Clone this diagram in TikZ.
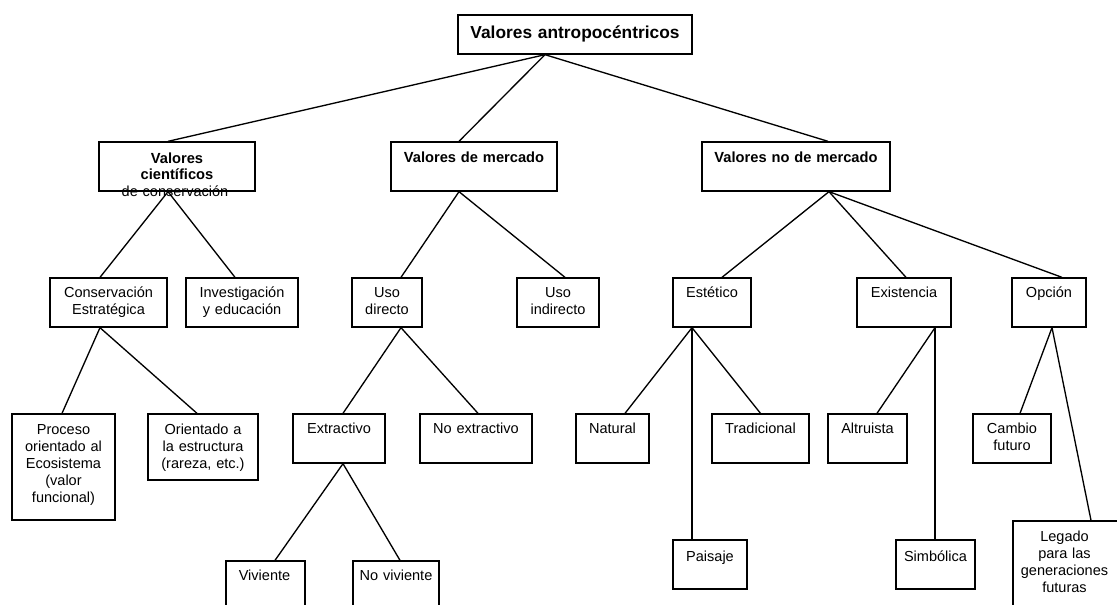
\documentclass[tikz,border=0pt]{standalone}
\usepackage{fontspec}
\setmainfont{Liberation Sans}
\usetikzlibrary{calc,fit}
\begin{document}
\begin{tikzpicture}[x=0.75pt,y=-0.75pt,
  bx/.style={draw, line width=1pt, inner sep=0pt},
  lbl/.style={anchor=base, inner sep=0pt, align=center, text width=200pt,
              font=\fontsize{10.9}{12.75}\selectfont},
  lblb/.style={lbl, font=\fontsize{11}{12.4}\selectfont\bfseries},
  lblt/.style={lbl, text width=240pt, font=\fontsize{13}{15}\selectfont\bfseries},
  ln/.style={line width=1pt}]
\useasboundingbox (0,0) rectangle (1117,604);
\clip (0,0) rectangle (1117,604);

% ---- boxes ----
\node[bx, fit={(458,15)(692,54)}]   (top) {};
\node[bx, fit={(99,142)(255,191)}]  (vc)  {};
\node[bx, fit={(391,142)(557,191)}] (vm)  {};
\node[bx, fit={(702,142)(890,191)}] (vn)  {};

\node[bx, fit={(50,278)(167,327)}]   (ce) {};
\node[bx, fit={(186,278)(298,327)}]  (ie) {};
\node[bx, fit={(352,278)(422,327)}]  (ud) {};
\node[bx, fit={(517,278)(599,327)}]  (ui) {};
\node[bx, fit={(673,278)(751,327)}]  (es) {};
\node[bx, fit={(857,278)(951,327)}]  (ex) {};
\node[bx, fit={(1012,278)(1086,327)}] (op) {};

\node[bx, fit={(12,414)(115,520)}]   (pr) {};
\node[bx, fit={(148,414)(258,480)}]  (oe) {};
\node[bx, fit={(293,414)(385,463)}]  (xt) {};
\node[bx, fit={(420,414)(532,463)}]  (nx) {};
\node[bx, fit={(576,414)(649,463)}]  (na) {};
\node[bx, fit={(712,414)(809,463)}]  (tr) {};
\node[bx, fit={(828,414)(907,463)}]  (al) {};
\node[bx, fit={(973,414)(1051,463)}] (cf) {};

\node[bx, fit={(226,561)(305,620)}]  (vi) {};
\node[bx, fit={(353,561)(439,620)}]  (nv) {};
\node[bx, fit={(673,540)(747,589)}]  (pa) {};
\node[bx, fit={(896,540)(975,589)}]  (si) {};
\node[bx, fit={(1013,521)(1123,620)}] (lg) {};

% ---- labels ----
\node[lblt] (top-t) at ($(top.north)+(0,24)$) {Valores antropocéntricos};
\node[lblb] (vc-t) at ($(vc.north)+(0,22)$) {Valores\\científicos};
\node[lbl]  (vc-s) at ($(vc.north)+(-2,55)$) {de conservación};
\node[lblb] (vm-t) at ($(vm.north)+(0,21)$) {Valores de mercado};
\node[lblb] (vn-t) at ($(vn.north)+(0,21)$) {Valores no de mercado};

\node[lbl] (ce-t) at ($(ce.north)+(0,20)$) {Conservación\\Estratégica};
\node[lbl] (ie-t) at ($(ie.north)+(0,20)$) {Investigación\\y educación};
\node[lbl] (ud-t) at ($(ud.north)+(0,20)$) {Uso\\directo};
\node[lbl] (ui-t) at ($(ui.north)+(0,20)$) {Uso\\indirecto};
\node[lbl] (es-t) at ($(es.north)+(0,20)$) {Estético};
\node[lbl] (ex-t) at ($(ex.north)+(0,20)$) {Existencia};
\node[lbl] (op-t) at ($(op.north)+(0,20)$) {Opción};

\node[lbl] (pr-t) at ($(pr.north)+(0,21)$) {Proceso\\orientado al\\Ecosistema\\(valor\\funcional)};
\node[lbl] (oe-t) at ($(oe.north)+(0,21)$) {Orientado a\\la estructura\\(rareza, etc.)};
\node[lbl] (xt-t) at ($(xt.north)+(0,20)$) {Extractivo};
\node[lbl] (nx-t) at ($(nx.north)+(0,20)$) {No extractivo};
\node[lbl] (na-t) at ($(na.north)+(0,20)$) {Natural};
\node[lbl] (tr-t) at ($(tr.north)+(0,20)$) {Tradicional};
\node[lbl] (al-t) at ($(al.north)+(0,20)$) {Altruista};
\node[lbl] (cf-t) at ($(cf.north)+(0,20)$) {Cambio\\futuro};

\node[lbl] (vi-t) at ($(vi.north)+(-1,20)$) {Viviente};
\node[lbl] (nv-t) at ($(nv.north)+(0,20)$) {No viviente};
\node[lbl] (pa-t) at ($(pa.north)+(0,22)$) {Paisaje};
\node[lbl] (si-t) at ($(si.north)+(0,22)$) {Simbólica};
\node[lbl] (lg-t) at ($(lg.north)+(-3.5,21)$) {Legado\\para las\\generaciones\\futuras};

% ---- connectors ----
\draw[ln] ($(top.south)+(-30,0)$) -- ($(vc.north)+(-9,0)$);
\draw[ln] ($(top.south)+(-30,0)$) -- ($(vm.north)+(-15,0)$);
\draw[ln] ($(top.south)+(-30,0)$) -- ($(vn.north)+(32,0)$);

\draw[ln] ($(vc.south)+(-9,0)$) -- ($(ce.north)+(-8.5,0)$);
\draw[ln] ($(vc.south)+(-9,0)$) -- ($(ie.north)+(-7,0)$);
\draw[ln] ($(vm.south)+(-15,0)$) -- ($(ud.north)+(14,0)$);
\draw[ln] ($(vm.south)+(-15,0)$) -- ($(ui.north)+(7,0)$);
\draw[ln] ($(vn.south)+(33,0)$) -- ($(es.north)+(10,0)$);
\draw[ln] ($(vn.south)+(33,0)$) -- ($(ex.north)+(2,0)$);
\draw[ln] ($(vn.south)+(33,0)$) -- ($(op.north)+(13,0)$);

\draw[ln] ($(ce.south)+(-8.5,0)$) -- ($(pr.north)+(-1.5,0)$);
\draw[ln] ($(ce.south)+(-8.5,0)$) -- ($(oe.north)+(-6,0)$);
\draw[ln] ($(ud.south)+(14,0)$) -- ($(xt.north)+(4,0)$);
\draw[ln] ($(ud.south)+(14,0)$) -- ($(nx.north)+(2,0)$);
\draw[ln] ($(es.south)+(-20,0)$) -- ($(na.north)+(12.5,0)$);
\draw[ln] ($(es.south)+(-20,0)$) -- ($(pa.north)+(-18,0)$);
\draw[ln] ($(es.south)+(-20,0)$) -- ($(tr.north)+(0,0)$);
\draw[ln] ($(ex.south)+(31,0)$) -- ($(al.north)+(9.5,0)$);
\draw[ln] ($(ex.south)+(31,0)$) -- ($(si.north)+(-0.5,0)$);
\draw[ln] ($(op.south)+(3,0)$) -- ($(cf.north)+(8,0)$);
\draw[ln] ($(op.south)+(3,0)$) -- ($(lg.north)+(23,0)$);

\draw[ln] ($(xt.south)+(4,0)$) -- ($(vi.north)+(9.5,0)$);
\draw[ln] ($(xt.south)+(4,0)$) -- ($(nv.north)+(4,0)$);
\end{tikzpicture}
\end{document}
